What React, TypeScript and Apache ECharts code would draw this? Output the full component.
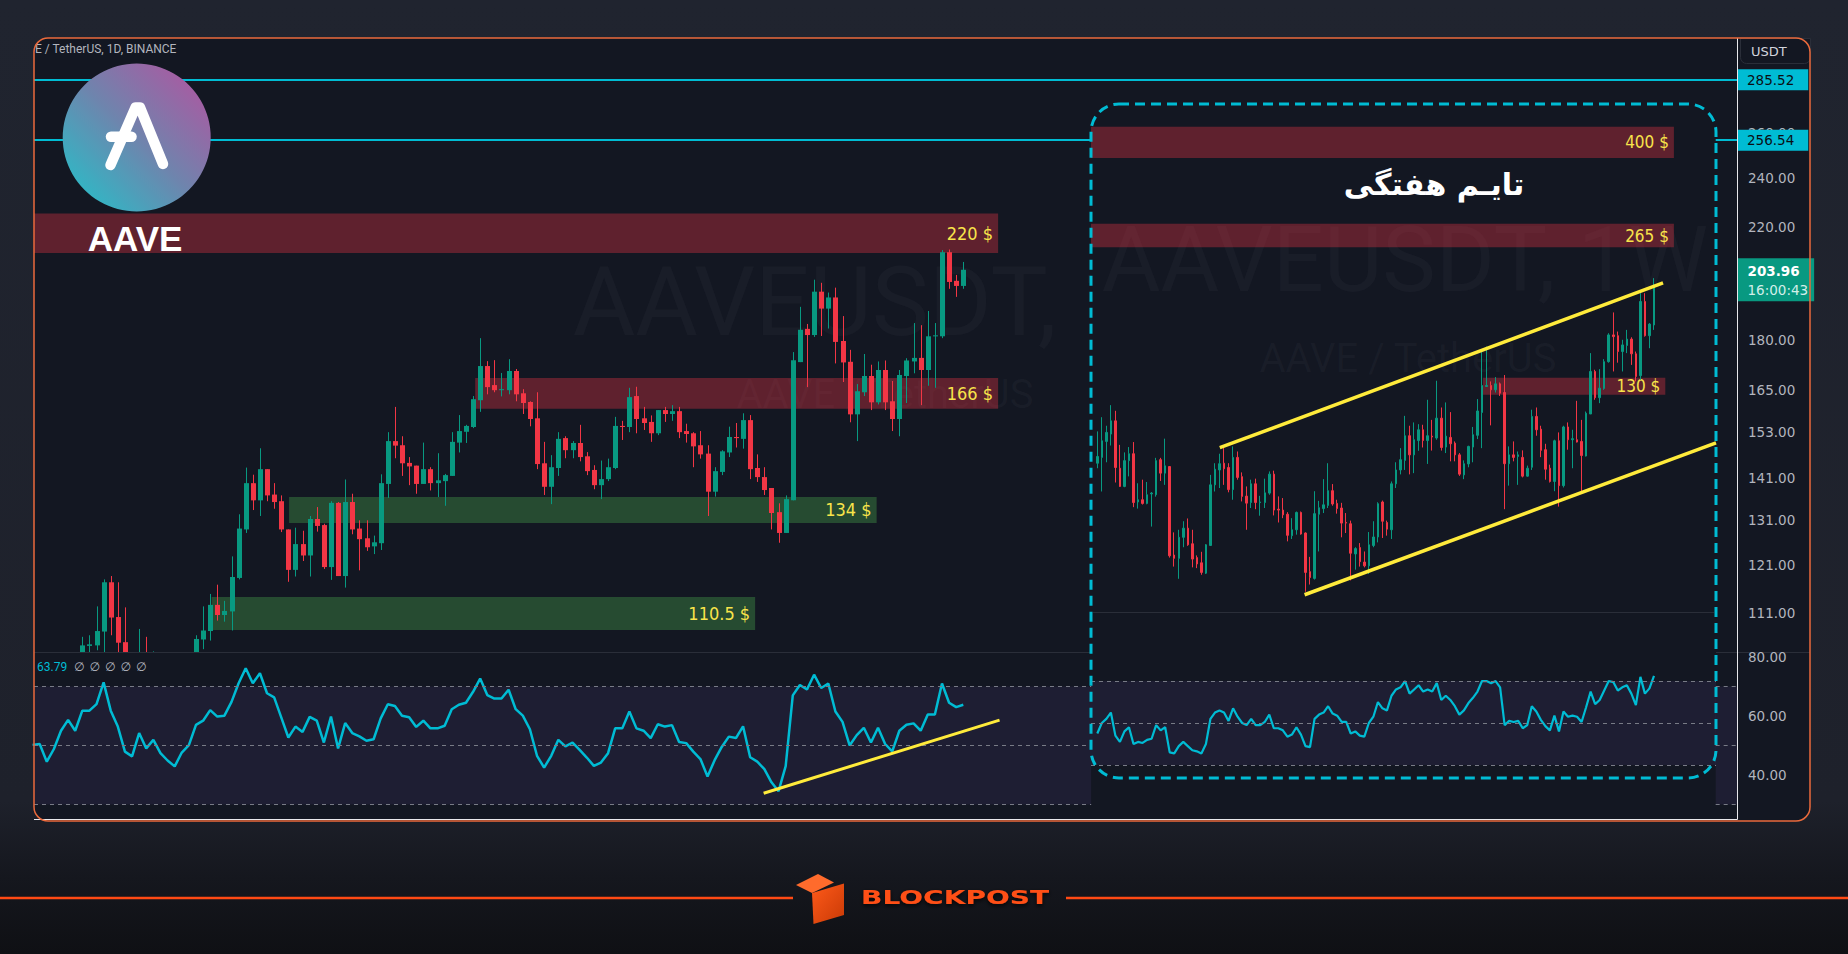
import React, { useEffect, useRef } from "react";
import * as echarts from "echarts";

// ---------------- DATA ----------------
// Daily AAVE/USDT candles [open, close, low, high]; first candle sits at daily index 7
const dailyFirstIndex = 7;
const dailyCandles: number[][] = [
  [102.0, 104.9, 100.5, 106.5], [104.8, 105.1, 103.0, 106.8], [104.9, 107.6, 104.0, 112.4], [107.5, 117.3, 102.5, 117.9],
  [117.3, 110.2, 106.8, 118.6], [110.3, 105.4, 102.0, 117.3], [105.5, 101.0, 99.0, 112.2], [101.0, 99.0, 97.0, 102.5],
  [99.0, 102.5, 97.5, 108.0], [102.5, 100.5, 98.5, 106.5], [100.5, 101.5, 99.0, 103.8], [101.5, 100.0, 98.0, 103.0],
  [100.0, 99.0, 97.0, 102.5], [99.0, 101.0, 97.5, 103.0], [101.0, 100.0, 98.5, 103.2], [100.0, 101.5, 99.0, 103.3],
  [101.5, 106.1, 100.5, 106.8], [106.0, 107.7, 104.2, 112.4], [107.6, 112.7, 105.8, 114.9], [112.7, 110.7, 109.6, 116.8],
  [110.7, 111.5, 109.4, 113.5], [111.4, 118.4, 107.7, 122.8], [118.2, 129.0, 117.9, 132.3], [128.8, 139.8, 128.0, 143.7],
  [139.8, 135.6, 133.3, 141.9], [135.6, 143.3, 131.9, 148.7], [143.3, 136.8, 135.4, 143.3], [137.0, 135.2, 133.6, 139.8],
  [135.4, 128.8, 128.2, 136.8], [128.8, 119.9, 117.4, 128.8], [119.9, 125.5, 118.5, 129.2], [125.5, 123.0, 121.8, 128.5],
  [123.0, 131.2, 118.5, 131.9], [131.2, 129.6, 128.3, 134.0], [129.8, 120.5, 120.1, 130.1], [120.5, 135.0, 117.8, 135.4],
  [135.0, 118.6, 118.6, 135.2], [118.6, 135.2, 116.2, 140.7], [135.2, 128.8, 127.7, 137.2], [129.0, 126.6, 119.8, 130.9],
  [126.8, 124.8, 124.0, 130.9], [125.0, 125.9, 123.3, 127.4], [125.7, 139.8, 124.2, 142.0], [139.6, 150.6, 136.2, 153.0],
  [150.6, 149.4, 146.1, 160.0], [149.5, 144.8, 141.6, 151.9], [144.9, 144.0, 139.3, 146.4], [144.2, 139.6, 137.2, 144.2],
  [139.6, 143.3, 139.6, 150.2], [143.3, 139.8, 138.0, 143.8], [139.8, 140.5, 136.4, 147.4], [140.3, 141.8, 134.3, 142.1],
  [141.6, 150.4, 141.6, 153.0], [150.2, 153.3, 147.6, 157.7], [153.1, 154.7, 150.1, 155.0], [154.4, 162.2, 154.1, 163.1],
  [161.9, 172.0, 158.6, 180.7], [172.0, 165.7, 163.6, 173.5], [166.3, 164.8, 164.2, 173.8], [164.8, 165.1, 163.0, 169.9],
  [164.8, 170.5, 163.6, 174.1], [170.5, 163.6, 161.6, 171.1], [163.9, 161.1, 158.0, 165.1], [161.4, 156.6, 154.6, 161.6],
  [156.8, 144.6, 143.3, 164.2], [144.8, 138.9, 136.9, 150.4], [138.9, 143.8, 134.7, 146.9], [143.6, 151.2, 141.6, 153.0],
  [151.4, 148.2, 146.1, 151.9], [148.2, 150.1, 146.1, 150.6], [150.1, 146.4, 145.3, 155.0], [146.6, 142.8, 141.8, 147.7],
  [143.1, 139.3, 138.3, 144.3], [139.3, 140.8, 135.9, 145.5], [140.8, 143.8, 140.3, 146.0], [143.6, 154.7, 143.3, 157.2],
  [154.7, 154.4, 150.9, 156.1], [154.4, 162.8, 153.0, 165.5], [163.1, 156.6, 152.7, 165.8], [156.8, 155.5, 153.6, 160.0],
  [155.8, 152.7, 150.4, 157.6], [152.7, 159.1, 152.2, 159.1], [159.1, 158.0, 155.8, 160.0], [158.0, 158.8, 156.1, 160.5],
  [158.8, 153.0, 151.4, 160.0], [153.3, 152.5, 150.2, 155.3], [152.7, 149.2, 143.8, 153.0], [149.5, 147.1, 146.0, 153.3],
  [147.3, 137.7, 131.9, 149.5], [137.7, 142.8, 136.5, 143.8], [142.6, 147.9, 141.8, 148.2], [147.6, 151.7, 146.4, 154.5],
  [151.7, 151.4, 148.9, 155.5], [151.2, 156.3, 148.6, 158.2], [156.3, 143.3, 140.8, 157.7], [143.6, 141.3, 140.1, 147.1],
  [141.3, 138.1, 136.9, 143.8], [138.6, 132.6, 128.8, 138.6], [132.8, 128.0, 125.8, 134.9], [128.0, 135.9, 128.0, 136.8],
  [135.6, 173.8, 135.6, 176.3], [173.2, 183.4, 173.2, 191.0], [183.7, 181.7, 165.7, 185.3], [181.7, 196.2, 181.1, 200.4],
  [196.2, 190.4, 181.4, 199.3], [190.4, 194.2, 183.8, 195.9], [194.2, 179.5, 172.8, 197.6], [179.8, 173.1, 167.2, 187.9],
  [173.3, 157.9, 155.7, 177.0], [157.9, 164.5, 150.6, 166.6], [164.2, 169.0, 163.1, 175.7], [169.0, 161.3, 159.1, 172.4],
  [161.3, 170.8, 160.7, 173.4], [170.8, 161.3, 159.1, 173.7], [161.6, 156.6, 153.3, 167.5], [156.6, 169.3, 151.9, 170.8],
  [169.0, 173.7, 161.1, 174.4], [173.4, 174.5, 169.8, 185.6], [174.5, 170.8, 160.5, 184.9], [170.8, 181.3, 166.1, 189.6],
  [181.3, 181.6, 165.5, 185.6], [181.3, 210.4, 180.7, 211.2], [210.4, 199.6, 197.2, 211.4], [200.0, 198.2, 194.4, 202.1],
  [198.2, 203.96, 197.2, 206.8],
];

// Daily RSI, from daily index 0
const dailyRsi: number[] = [
  50.2, 50.5, 44.5, 48.8, 55.0, 58.7, 55.0, 61.8, 61.8, 64.0, 71.4, 61.8, 56.4, 47.9, 46.3, 54.2, 49.0, 51.9, 47.4, 44.9,
  42.9, 47.6, 50.1, 57.0, 58.4, 62.0, 59.8, 60.1, 64.8, 71.1, 76.2, 71.1, 74.5, 67.7, 66.3, 59.5, 52.7, 56.4, 54.6, 59.7,
  58.4, 51.0, 59.8, 49.0, 57.6, 54.2, 53.1, 51.6, 52.1, 59.2, 64.0, 63.4, 60.1, 59.6, 56.3, 58.4, 55.8, 55.8, 56.7, 62.3,
  63.8, 64.5, 68.2, 72.7, 67.1, 65.9, 65.9, 68.9, 62.3, 60.1, 55.5, 46.5, 42.5, 46.5, 51.9, 49.7, 51.0, 48.5, 45.9, 43.1,
  44.2, 47.4, 55.8, 55.8, 61.5, 55.8, 55.0, 52.5, 57.2, 56.4, 56.9, 51.2, 50.8, 47.9, 45.4, 39.5, 45.0, 49.5, 53.0, 52.5,
  56.5, 46.0, 44.5, 42.0, 37.5, 34.5, 43.0, 67.0, 70.5, 69.0, 74.0, 69.5, 71.0, 61.5, 58.0, 50.0, 53.5, 56.0, 51.0, 56.0,
  50.5, 48.0, 55.0, 57.0, 57.5, 55.0, 60.5, 60.5, 71.0, 64.5, 63.0, 63.79,
];

// Weekly AAVE/USDT candles [open, close, low, high]
const weeklyCandles: number[][] = [
  [90.9, 93.8, 88.8, 105.4], [93.4, 100.9, 79.7, 112.6], [100.6, 104.9, 91.3, 108.2], [104.1, 110.7, 98.7, 119.1],
  [110.7, 89.1, 83.1, 116.0], [88.8, 81.6, 81.4, 99.0], [81.6, 92.0, 81.3, 95.6], [92.0, 95.0, 85.5, 98.0],
  [95.0, 75.7, 74.1, 100.3], [75.9, 76.7, 73.6, 82.8], [76.7, 75.4, 75.0, 84.2], [75.4, 78.5, 75.1, 83.3],
  [78.8, 79.1, 67.7, 79.5], [78.5, 92.0, 77.8, 93.2], [92.4, 86.8, 83.7, 93.2], [86.8, 89.8, 82.2, 101.9],
  [89.5, 59.1, 58.6, 89.5], [59.3, 58.4, 56.2, 65.9], [58.4, 64.4, 53.1, 66.7], [64.4, 67.2, 61.5, 69.4],
  [67.2, 62.2, 61.9, 70.3], [62.5, 58.2, 56.0, 66.7], [58.6, 56.9, 55.8, 59.2], [57.2, 54.7, 54.1, 60.2],
  [54.5, 62.2, 54.3, 62.4], [62.0, 82.2, 62.0, 86.1], [82.2, 88.4, 79.7, 90.9], [88.1, 90.7, 81.0, 95.0],
  [90.9, 88.6, 82.2, 98.3], [89.1, 80.4, 79.4, 90.9], [80.4, 93.4, 76.7, 98.3], [93.4, 85.1, 84.2, 96.0],
  [85.4, 77.9, 76.1, 87.1], [78.0, 75.5, 66.7, 81.6], [75.7, 82.6, 73.8, 84.2], [82.6, 75.7, 73.4, 84.6],
  [75.7, 75.9, 71.2, 78.1], [75.7, 79.2, 73.8, 84.6], [79.1, 86.4, 78.5, 87.5], [86.4, 73.1, 71.3, 87.8],
  [73.4, 73.1, 69.0, 77.9], [73.1, 71.5, 70.4, 77.3], [71.7, 65.0, 63.2, 72.4], [64.9, 66.7, 63.9, 70.4],
  [66.7, 72.3, 65.2, 72.6], [72.3, 65.4, 65.2, 72.6], [65.7, 54.7, 50.0, 65.9], [54.9, 53.4, 51.7, 58.8],
  [53.2, 71.9, 52.9, 79.8], [71.7, 73.9, 60.3, 76.3], [73.6, 74.9, 72.1, 84.4], [74.7, 80.0, 73.8, 90.9],
  [80.0, 75.2, 74.6, 82.5], [75.4, 73.6, 71.9, 76.7], [73.8, 68.8, 64.4, 75.6], [69.0, 68.8, 65.7, 72.1],
  [68.6, 59.8, 52.7, 69.6], [59.6, 61.1, 55.4, 61.5], [61.4, 57.5, 56.2, 62.7], [57.4, 56.4, 56.0, 60.3],
  [56.4, 62.2, 54.3, 66.0], [62.0, 64.5, 61.5, 69.4], [64.5, 75.3, 62.9, 75.8], [75.9, 69.4, 64.2, 76.4],
  [69.0, 66.9, 64.9, 69.6], [66.7, 82.6, 63.9, 83.5], [82.6, 88.1, 81.0, 91.3], [88.1, 92.4, 86.3, 97.5],
  [92.1, 103.3, 88.1, 113.3], [103.3, 94.5, 86.3, 108.2], [94.5, 101.4, 86.8, 109.9], [101.0, 106.2, 96.3, 109.0],
  [106.2, 101.0, 97.8, 108.7], [101.0, 103.3, 90.6, 122.1], [103.1, 102.7, 96.4, 111.2], [102.2, 112.1, 101.4, 133.4],
  [112.1, 97.8, 96.4, 117.8], [98.0, 103.1, 95.3, 120.6], [102.5, 99.5, 91.7, 115.3], [99.8, 94.5, 91.7, 100.6],
  [94.5, 86.4, 85.7, 95.3], [86.1, 90.7, 84.4, 92.1], [90.6, 98.3, 89.2, 98.6], [98.0, 103.8, 91.3, 107.6],
  [103.5, 115.9, 101.7, 122.5], [115.1, 130.5, 97.5, 153.4], [129.9, 130.5, 129.9, 156.4], [130.5, 127.9, 108.4, 133.0],
  [127.9, 131.5, 126.3, 135.7], [131.5, 125.9, 124.3, 132.3], [126.3, 90.7, 73.4, 137.0], [90.7, 94.5, 81.9, 98.3],
  [94.5, 93.4, 91.7, 100.6], [93.8, 94.5, 82.2, 96.0], [93.4, 85.6, 85.1, 96.5], [85.6, 88.8, 85.4, 89.9],
  [89.2, 113.0, 88.1, 116.6], [113.0, 106.2, 103.3, 117.8], [106.5, 96.5, 93.5, 108.2], [96.8, 88.4, 84.2, 99.5],
  [88.8, 83.5, 83.1, 90.3], [83.5, 100.9, 79.8, 101.4], [100.9, 81.9, 74.3, 104.9], [81.9, 107.6, 81.2, 108.2],
  [107.6, 101.4, 96.8, 109.9], [101.4, 101.9, 88.8, 106.2], [101.4, 100.3, 100.1, 121.5], [100.6, 94.2, 79.1, 111.2],
  [94.0, 114.7, 93.8, 115.6], [114.3, 139.3, 114.3, 151.7], [139.3, 123.3, 122.1, 140.4], [123.3, 128.9, 120.2, 140.8],
  [128.7, 145.8, 127.9, 147.5], [145.8, 165.1, 145.1, 166.4], [165.1, 163.8, 139.3, 183.3], [164.5, 152.8, 145.1, 167.7],
  [152.8, 157.6, 139.3, 161.4], [157.2, 161.9, 151.7, 169.0], [161.9, 151.2, 143.6, 163.3], [151.2, 136.1, 133.0, 152.8],
  [136.6, 192.9, 134.0, 200.5], [192.9, 164.5, 163.8, 200.5], [164.5, 173.6, 155.2, 174.4], [172.9, 206.8, 169.0, 215.0],
];

// Weekly RSI (inset)
const weeklyRsi: number[] = [
  45, 50, 52, 55, 44, 41, 46, 48, 40, 41, 40.5, 42, 42.5, 49, 46.5, 48,
  36, 35.5, 39, 41, 39, 37, 36.5, 35.5, 40,
  52, 55, 56, 55, 51, 57, 53, 50, 49,
  52, 49, 49, 50.5, 54, 47.5, 47.5, 46.5,
  43.5, 44.5, 48, 44.5, 39, 38.5,
  52, 54, 55, 58, 54.5, 53.5, 50.5, 50.5, 45, 46, 44, 43.5, 50, 53, 60,
  57, 56, 63, 66, 67, 70, 64, 66, 68, 65, 66, 65, 69, 61, 63, 61, 58, 54, 56, 59.5, 62,
  65, 70, 70, 69, 70, 67, 49, 51, 50.5, 51, 47.5, 49,
  58, 55.5, 51.5, 48.5, 46.5, 53.5, 46, 55.5, 53, 53.5, 53, 50.5, 57.5,
  65, 59, 61, 65.5, 70, 69.5, 65.5, 67, 68, 64, 58.5, 72, 64, 66.5, 72.5,
];

const dailyPriceTicks = [260, 240, 220, 180, 165, 153, 141, 131, 121, 111];
const rsiTicks = [80, 60, 40];
const rsiLevels = [70, 50, 30];
const alertPrices = [285.52, 256.54];
const lastPrice = 203.96;
const lastPriceTimer = "16:00:43";
const lastRsiText = "63.79";

const dailyZones = [
  { label: "220 $", low: 210.1, high: 225.3, from: 0.2, to: 135.9, kind: "res" },
  { label: "166 $", low: 159.5, high: 168.4, from: 62.3, to: 135.9, kind: "res" },
  { label: "134 $", low: 130.3, high: 136.4, from: 36.1, to: 118.8, kind: "sup" },
  { label: "110.5 $", low: 107.8, high: 114.3, from: 25.2, to: 101.7, kind: "sup" },
];
const weeklyZones = [
  { label: "400 $", low: 376.1, high: 434.6, from: -1.39, to: 127.4, kind: "res" },
  { label: "265 $", low: 248.2, high: 276.8, from: -1.39, to: 127.4, kind: "res" },
  { label: "130 $", low: 125.0, high: 135.2, from: 85.2, to: 125.5, kind: "res" },
];
const weeklyChannel = [
  [[27.07, 97.7], [125.0, 210.3]],
  [[45.8, 49.3], [136.7, 99.9]],
];
const dailyRsiTrend = [[102.9, 33.8], [136.1, 58.6]];

// axis extents (data units)
const dailyXRange = [0.2, 239.9];
const insetGapInDaily = [149.0, 236.9];
const dailyPriceRange = [103.68, 307.4];
const dailyRsiRange = [25.4, 81.7];
const weeklyXRange = [-1.39, 136.7];
const weeklyPriceRange = [45.5, 483.3];
const weeklyRsiRange = [23.8, 102.9];

// ---------------- STYLE ----------------
const UP = "#089981";
const DOWN = "#f23645";
const CYAN = "#00bcd4";
const YELLOW = "#ffeb3b";
const LABEL_YELLOW = "#f8e44a";
const AXIS_TEXT = "#b2b5be";
const CHART_BG = "#131722";
const RES_FILL = "rgba(242,54,69,0.34)";
const SUP_FILL = "rgba(76,175,80,0.34)";
const BAND_FILL = "rgba(126,87,194,0.11)";
const AXIS_FONT = "DejaVu Sans";
const ZONE_FONT = "Liberation Sans Narrow, DejaVu Sans Condensed, sans-serif";

function splitAroundInset(y: number) {
  return [
    [{ coord: [dailyXRange[0], y] }, { coord: [insetGapInDaily[0], y] }],
    [{ coord: [insetGapInDaily[1], y] }, { coord: [dailyXRange[1], y] }],
  ];
}

function tickLine(v: number) {
  return {
    yAxis: v,
    lineStyle: { color: "rgba(0,0,0,0)", width: 0 },
    label: {
      show: true,
      position: "end",
      distance: 11,
      formatter: v.toFixed(2),
      color: AXIS_TEXT,
      fontSize: 13.5,
      fontFamily: AXIS_FONT,
    },
  };
}

function zoneArea(z: any, fontSize: number) {
  return [
    {
      coord: [z.from, z.high],
      itemStyle: { color: z.kind === "res" ? RES_FILL : SUP_FILL },
      label: {
        show: true,
        position: "insideRight",
        distance: 5,
        formatter: z.label,
        color: LABEL_YELLOW,
        fontSize,
        fontFamily: ZONE_FONT,
      },
    },
    { coord: [z.to, z.low] },
  ];
}

// candle drawn through the axes, clipped to its pane
function renderDailyCandle(params: any, api: any) {
  const x = api.value(0);
  const o = api.value(1);
  const c = api.value(2);
  const l = api.value(3);
  const h = api.value(4);
  const po = api.coord([x, o]);
  const pc = api.coord([x, c]);
  const pl = api.coord([x, l]);
  const ph = api.coord([x, h]);
  const cs = params.coordSys;
  const color = c >= o ? UP : DOWN;
  const cx = Math.round(po[0]) + 0.5;
  const children: any[] = [];
  const wTop = Math.max(ph[1], cs.y);
  const wBot = Math.min(pl[1], cs.y + cs.height);
  if (wBot > wTop) {
    children.push({ type: "line", shape: { x1: cx, y1: wTop, x2: cx, y2: wBot }, style: { stroke: color, lineWidth: 1 } });
  }
  const top = Math.min(po[1], pc[1]);
  const height = Math.max(Math.abs(po[1] - pc[1]), 1);
  const body = echarts.graphic.clipRectByRect({ x: cx - 2.5, y: top, width: 5, height }, cs);
  if (body && body.height > 0) {
    children.push({ type: "rect", shape: body, style: { fill: color } });
  }
  return { type: "group", children };
}

function buildOption() {
  const grids = [
    { left: 34, top: 38, width: 1703, height: 614 },
    { left: 34, top: 652, width: 1703, height: 166 },
    { left: 1091, top: 104, width: 625, height: 508 },
    { left: 1091, top: 612, width: 625, height: 166 },
  ];
  const xr = [dailyXRange, dailyXRange, weeklyXRange, weeklyXRange];
  const xAxis = grids.map((_, i) => ({
    type: "value",
    gridIndex: i,
    min: xr[i][0],
    max: xr[i][1],
    show: false,
    splitLine: { show: false },
  }));
  const yAxis = [
    { type: "log", gridIndex: 0, min: dailyPriceRange[0], max: dailyPriceRange[1], show: false, splitLine: { show: false } },
    { type: "value", gridIndex: 1, min: dailyRsiRange[0], max: dailyRsiRange[1], show: false, splitLine: { show: false } },
    { type: "log", gridIndex: 2, min: weeklyPriceRange[0], max: weeklyPriceRange[1], show: false, splitLine: { show: false } },
    { type: "value", gridIndex: 3, min: weeklyRsiRange[0], max: weeklyRsiRange[1], show: false, splitLine: { show: false } },
  ];

  const candleStyle = { color: UP, color0: DOWN, borderColor: UP, borderColor0: DOWN, borderWidth: 1 };

  const boxLabel = (text: string, bg: string, color: string) => ({
    show: true,
    position: "end",
    distance: 1,
    formatter: text,
    color,
    backgroundColor: bg,
    padding: [4, 14, 3, 9],
    fontSize: 13.5,
    fontFamily: AXIS_FONT,
  });

  const series: any[] = [
    {
      type: "custom",
      name: "AAVEUSDT 1D",
      xAxisIndex: 0,
      yAxisIndex: 0,
      z: 2,
      clip: true,
      encode: { x: 0, y: [1, 2, 3, 4] },
      data: dailyCandles.map((c, i) => [i + dailyFirstIndex, c[0], c[1], c[2], c[3]]),
      renderItem: renderDailyCandle,
      markArea: {
        silent: true,
        data: dailyZones.map((z) => zoneArea(z, 18)),
      },
      markLine: {
        silent: true,
        symbol: ["none", "none"],
        label: { show: false },
        data: [
          ...dailyPriceTicks.map(tickLine),
          {
            yAxis: alertPrices[0],
            lineStyle: { color: CYAN, width: 2, type: "solid" },
            label: boxLabel(alertPrices[0].toFixed(2), CYAN, "#0b0e14"),
          },
          [
            { coord: [dailyXRange[0], alertPrices[1]], lineStyle: { color: CYAN, width: 2, type: "solid" }, label: { show: false } },
            { coord: [insetGapInDaily[0], alertPrices[1]] },
          ],
          [
            { coord: [insetGapInDaily[1], alertPrices[1]], lineStyle: { color: CYAN, width: 2, type: "solid" }, label: boxLabel(alertPrices[1].toFixed(2), CYAN, "#0b0e14") },
            { coord: [dailyXRange[1], alertPrices[1]] },
          ],
        ],
      },
      markPoint: {
        silent: true,
        data: [
          {
            coord: [dailyXRange[1], lastPrice],
            symbol: "rect",
            symbolSize: [1, 1],
            itemStyle: { color: "rgba(0,0,0,0)" },
            label: {
              show: true,
              position: "right",
              distance: 0,
              offset: [0, 10],
              formatter: `{a|${lastPrice.toFixed(2)}}\n{b|${lastPriceTimer}}`,
              backgroundColor: UP,
              padding: [3, 6, 2, 10],
              rich: {
                a: { color: "#ffffff", fontWeight: "bold", fontSize: 13.5, lineHeight: 19, fontFamily: AXIS_FONT },
                b: { color: "#d2efe9", fontSize: 13.5, lineHeight: 19, fontFamily: AXIS_FONT },
              },
            },
          },
        ],
      },
    },
    {
      type: "line",
      name: "RSI 1D",
      xAxisIndex: 1,
      yAxisIndex: 1,
      z: 2,
      symbol: "none",
      showSymbol: false,
      data: dailyRsi.map((v, i) => [i, v]),
      lineStyle: { color: CYAN, width: 2.5 },
      markArea: {
        silent: true,
        itemStyle: { color: BAND_FILL },
        data: [
          [{ coord: [dailyXRange[0], rsiLevels[0]] }, { coord: [insetGapInDaily[0], rsiLevels[2]] }],
          [{ coord: [insetGapInDaily[1], rsiLevels[0]] }, { coord: [dailyXRange[1], rsiLevels[2]] }],
        ],
      },
      markLine: {
        silent: true,
        symbol: ["none", "none"],
        label: { show: false },
        data: [
          ...rsiLevels.flatMap((lv) =>
            splitAroundInset(lv).map((seg) => [
              { ...seg[0], lineStyle: { color: "#787b86", width: 1, type: [4, 4] }, label: { show: false } },
              seg[1],
            ])
          ),
          ...rsiTicks.map(tickLine),
          [
            { coord: dailyRsiTrend[0], lineStyle: { color: YELLOW, width: 3, type: "solid" }, label: { show: false } },
            { coord: dailyRsiTrend[1] },
          ],
        ],
      },
    },
    {
      type: "candlestick",
      name: "AAVEUSDT 1W",
      xAxisIndex: 2,
      yAxisIndex: 2,
      z: 3,
      barWidth: 2,
      encode: { x: 0, y: [1, 2, 3, 4] },
      data: weeklyCandles.map((c, i) => [i, c[0], c[1], c[2], c[3]]),
      itemStyle: candleStyle,
      markArea: {
        silent: true,
        data: weeklyZones.map((z) => zoneArea(z, 17)),
      },
      markLine: {
        silent: true,
        symbol: ["none", "none"],
        label: { show: false },
        lineStyle: { color: YELLOW, width: 3.5, type: "solid" },
        data: weeklyChannel.map((seg) => [{ coord: seg[0] }, { coord: seg[1] }]),
      },
    },
    {
      type: "line",
      name: "RSI 1W",
      xAxisIndex: 3,
      yAxisIndex: 3,
      z: 3,
      symbol: "none",
      showSymbol: false,
      data: weeklyRsi.map((v, i) => [i, v]),
      lineStyle: { color: CYAN, width: 2.2 },
      markArea: {
        silent: true,
        itemStyle: { color: BAND_FILL },
        data: [[{ coord: [weeklyXRange[0], rsiLevels[0]] }, { coord: [weeklyXRange[1], rsiLevels[2]] }]],
      },
      markLine: {
        silent: true,
        symbol: ["none", "none"],
        label: { show: false },
        lineStyle: { color: "#787b86", width: 1, type: [4, 4] },
        data: rsiLevels.map((lv) => ({ yAxis: lv })),
      },
    },
  ];

  const wm = "rgba(120,123,134,0.065)";
  const graphic: any[] = [
    // chart background
    { type: "rect", z: 0, shape: { x: 34, y: 38, width: 1776, height: 783, r: 14 }, style: { fill: CHART_BG } },
    // daily watermark
    { type: "text", z: 0.1, x: 885, y: 302, style: { text: "AAVEUSDT, 1D", fill: wm, fontSize: 96, fontFamily: "Roboto", align: "center", verticalAlign: "middle" } },
    { type: "text", z: 0.1, x: 885, y: 394, style: { text: "AAVE / TetherUS", fill: wm, fontSize: 40, fontFamily: "Roboto", align: "center", verticalAlign: "middle" } },
    // pane separator (daily)
    { type: "line", z: 0.2, shape: { x1: 34, y1: 652.5, x2: 1091, y2: 652.5 }, style: { stroke: "#2a2e39", lineWidth: 1 } },
    { type: "line", z: 0.2, shape: { x1: 1716, y1: 652.5, x2: 1810, y2: 652.5 }, style: { stroke: "#2a2e39", lineWidth: 1 } },
    // inset background
    { type: "rect", z: 0.3, shape: { x: 1091, y: 104, width: 625, height: 674, r: 28 }, style: { fill: CHART_BG } },
    // inset watermark
    { type: "text", z: 0.4, x: 1405, y: 260, style: { text: "AAVEUSDT, 1W", fill: wm, fontSize: 90, fontFamily: "Roboto", align: "center", verticalAlign: "middle" } },
    { type: "text", z: 0.4, x: 1408, y: 358, style: { text: "AAVE / TetherUS", fill: wm, fontSize: 40, fontFamily: "Roboto", align: "center", verticalAlign: "middle" } },
    { type: "line", z: 0.5, shape: { x1: 1093, y1: 612.5, x2: 1714, y2: 612.5 }, style: { stroke: "#2a2e39", lineWidth: 1 } },
    // inset dashed border
    { type: "rect", z: 8, shape: { x: 1091, y: 104, width: 625, height: 674, r: 28 }, style: { fill: null, stroke: CYAN, lineWidth: 3, lineDash: [10, 6] } },
    // inset title
    { type: "text", z: 8, x: 1434, y: 184, style: { text: "تایـم هفتگی", fill: "#ffffff", fontSize: 30, fontWeight: "bold", fontFamily: "DejaVu Sans", align: "center", verticalAlign: "middle" } },
    // header
    { type: "text", z: 9, x: 35, y: 49, style: { text: "E / TetherUS, 1D, BINANCE", fill: AXIS_TEXT, fontSize: 12, fontFamily: "Roboto", align: "left", verticalAlign: "middle" } },
    // RSI legend
    { type: "text", z: 9, x: 37, y: 667, style: { text: lastRsiText, fill: CYAN, fontSize: 12, fontFamily: "Roboto", align: "left", verticalAlign: "middle" } },
    ...[74, 89.5, 105, 120.5, 136].map((x) => ({
      type: "text", z: 9, x, y: 667, style: { text: "∅", fill: AXIS_TEXT, fontSize: 12, fontFamily: "DejaVu Sans", align: "left", verticalAlign: "middle" },
    })),
    // USDT box
    { type: "rect", z: 9, shape: { x: 1740.5, y: 38.5, width: 70, height: 25, r: [0, 0, 6, 6] }, style: { fill: CHART_BG, stroke: "#2a2e39", lineWidth: 1 } },
    { type: "text", z: 9, x: 1751, y: 51, style: { text: "USDT", fill: "#d1d4dc", fontSize: 13, fontFamily: AXIS_FONT, align: "left", verticalAlign: "middle" } },
    // white axis borders
    { type: "line", z: 10, shape: { x1: 1737.5, y1: 38, x2: 1737.5, y2: 819.5 }, style: { stroke: "#e8e8ec", lineWidth: 1 } },
    { type: "line", z: 10, shape: { x1: 34, y1: 819.5, x2: 1737.5, y2: 819.5 }, style: { stroke: "#e8e8ec", lineWidth: 1 } },
    // orange frame
    { type: "rect", z: 11, shape: { x: 34, y: 38, width: 1776, height: 783, r: 14 }, style: { fill: null, stroke: "#ea6a3c", lineWidth: 1.5 } },
    // AAVE logo
    {
      type: "circle", z: 10, shape: { cx: 136.7, cy: 137.5, r: 74 },
      style: {
        fill: {
          type: "linear", x: 0, y: 1, x2: 1, y2: 0,
          colorStops: [
            { offset: 0, color: "#1ec6cc" },
            { offset: 0.5, color: "#6f84ad" },
            { offset: 1, color: "#b7509f" },
          ],
        },
      },
    },
    { type: "polyline", z: 10.5, shape: { points: [[110.5, 165], [135.5, 107.5], [140, 107.5], [163, 164]] }, style: { fill: null, stroke: "#ffffff", lineWidth: 10.5, lineCap: "round", lineJoin: "round" } },
    { type: "line", z: 10.5, shape: { x1: 111, y1: 136.7, x2: 131.5, y2: 136.7 }, style: { stroke: "#ffffff", lineWidth: 10.5, lineCap: "round" } },
    { type: "text", z: 10, x: 135, y: 238, style: { text: "AAVE", fill: "#ffffff", fontSize: 35, fontWeight: "bold", fontFamily: "Liberation Sans", align: "center", verticalAlign: "middle" } },
    // footer
    { type: "line", z: 1, shape: { x1: 0, y1: 898, x2: 793, y2: 898 }, style: { stroke: "#ff4a14", lineWidth: 2.5 } },
    { type: "line", z: 1, shape: { x1: 1066, y1: 898, x2: 1848, y2: 898 }, style: { stroke: "#ff4a14", lineWidth: 2.5 } },
    { type: "polygon", z: 1, shape: { points: [[796, 885], [818, 874], [834, 882.5], [812, 893]] }, style: { fill: "#ff6b2c" } },
    {
      type: "polygon", z: 1, shape: { points: [[812, 893], [844, 883.5], [844, 915], [813.5, 924]] },
      style: {
        fill: {
          type: "linear", x: 0, y: 0, x2: 1, y2: 1,
          colorStops: [{ offset: 0, color: "#ff5a1a" }, { offset: 1, color: "#c93a06" }],
        },
      },
    },
    {
      type: "text", z: 1, x: 861, y: 898, scaleX: 1.44,
      style: { text: "BLOCKPOST", fill: "#ff4f17", fontSize: 19.5, fontWeight: "bold", fontFamily: "DejaVu Sans", align: "left", verticalAlign: "middle", textShadowColor: "rgba(0,0,0,0.8)", textShadowBlur: 4, textShadowOffsetY: 2 },
    },
  ];

  return {
    animation: false,
    grid: grids.map((g) => ({ ...g, containLabel: false })),
    xAxis,
    yAxis,
    series,
    graphic,
  };
}

export default function App() {
  const ref = useRef<HTMLDivElement>(null);
  useEffect(() => {
    if (!ref.current) return;
    const chart = echarts.init(ref.current, null, { renderer: "svg" });
    chart.setOption(buildOption() as any);
    return () => chart.dispose();
  }, []);
  return (
    <div
      ref={ref}
      style={{
        position: "fixed",
        left: 0,
        top: 0,
        width: "1848px",
        height: "954px",
        background: "linear-gradient(to bottom, #20242f 0%, #1e212b 84%, #15171e 92%, #0f1014 100%)",
      }}
    />
  );
}
